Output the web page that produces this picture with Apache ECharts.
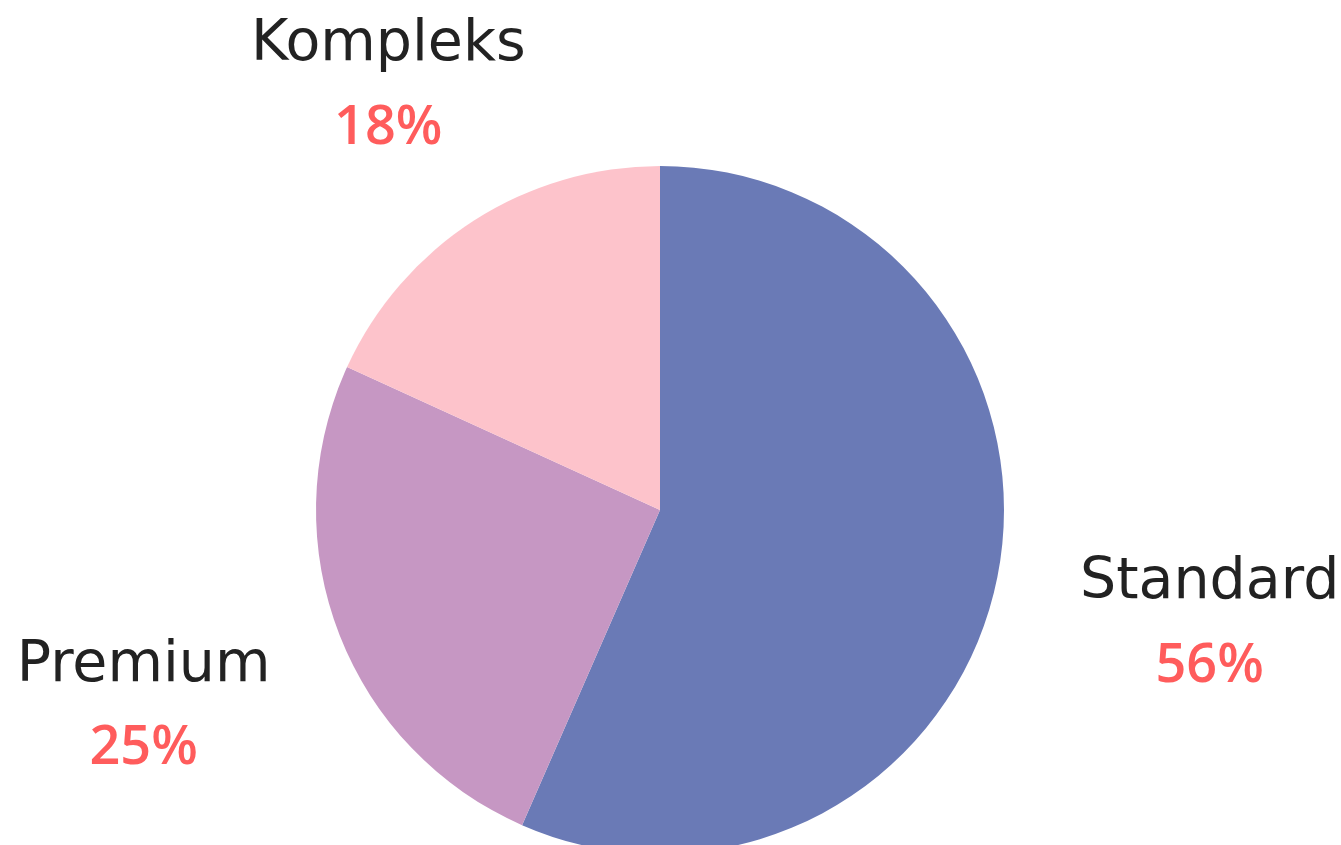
<!DOCTYPE html>
<html>
<head>
    <meta charset="UTF-8"/>
    <title>pie</title>
    <script type="text/javascript" src="https://cdn.jsdelivr.net/npm/echarts@6/dist/echarts.min.js"></script>
    <style>
        html, body { margin: 0; padding: 0; background: #fff; }
        #main { width: 1341px; height: 845px; }
    </style>
</head>
<body>
<div id="main"></div>
<script>
    // data
    var names = ['Standard', 'Premium', 'Kompleks'];
    var values = [56, 25, 18];
    var colors = ['#6a7ab6', '#c697c3', '#fdc3cb'];

    // layout
    var cx = 660, cy = 510, radius = 344;
    var labelA = 566, labelB = 482; // ellipse the label centres sit on

    var total = values.reduce(function (a, b) { return a + b; }, 0);

    function midAngle(idx) {
        var acc = 0;
        for (var i = 0; i < idx; i++) acc += values[i];
        return (acc + values[idx] / 2) / total * Math.PI * 2;
    }

    var chart = echarts.init(document.getElementById('main'));
    chart.setOption({
        backgroundColor: '#ffffff',
        animation: false,
        series: [{
            type: 'pie',
            center: [cx, cy],
            radius: [0, radius],
            startAngle: 90,
            clockwise: true,
            data: names.map(function (n, i) {
                return { name: n, value: values[i], itemStyle: { color: colors[i] } };
            }),
            label: {
                show: true,
                position: 'outside',
                formatter: '{n|{b}}\n{p|{c}%}',
                rich: {
                    n: {
                        fontFamily: '"DejaVu Sans", sans-serif',
                        fontSize: 57,
                        color: '#222222',
                        lineHeight: 83,
                        align: 'center'
                    },
                    p: {
                        fontFamily: '"Open Sans", sans-serif',
                        fontSize: 54,
                        fontWeight: 600,
                        color: '#ff5c5c',
                        lineHeight: 83,
                        align: 'center'
                    }
                }
            },
            labelLine: { show: false },
            labelLayout: function (params) {
                var a = midAngle(params.dataIndex);
                var dx = Math.sin(a), dy = -Math.cos(a);
                var rho = 1 / Math.sqrt(dx * dx / (labelA * labelA) + dy * dy / (labelB * labelB));
                return {
                    x: cx + dx * rho,
                    y: cy + dy * rho,
                    align: 'center',
                    verticalAlign: 'middle'
                };
            }
        }]
    });
</script>
</body>
</html>
